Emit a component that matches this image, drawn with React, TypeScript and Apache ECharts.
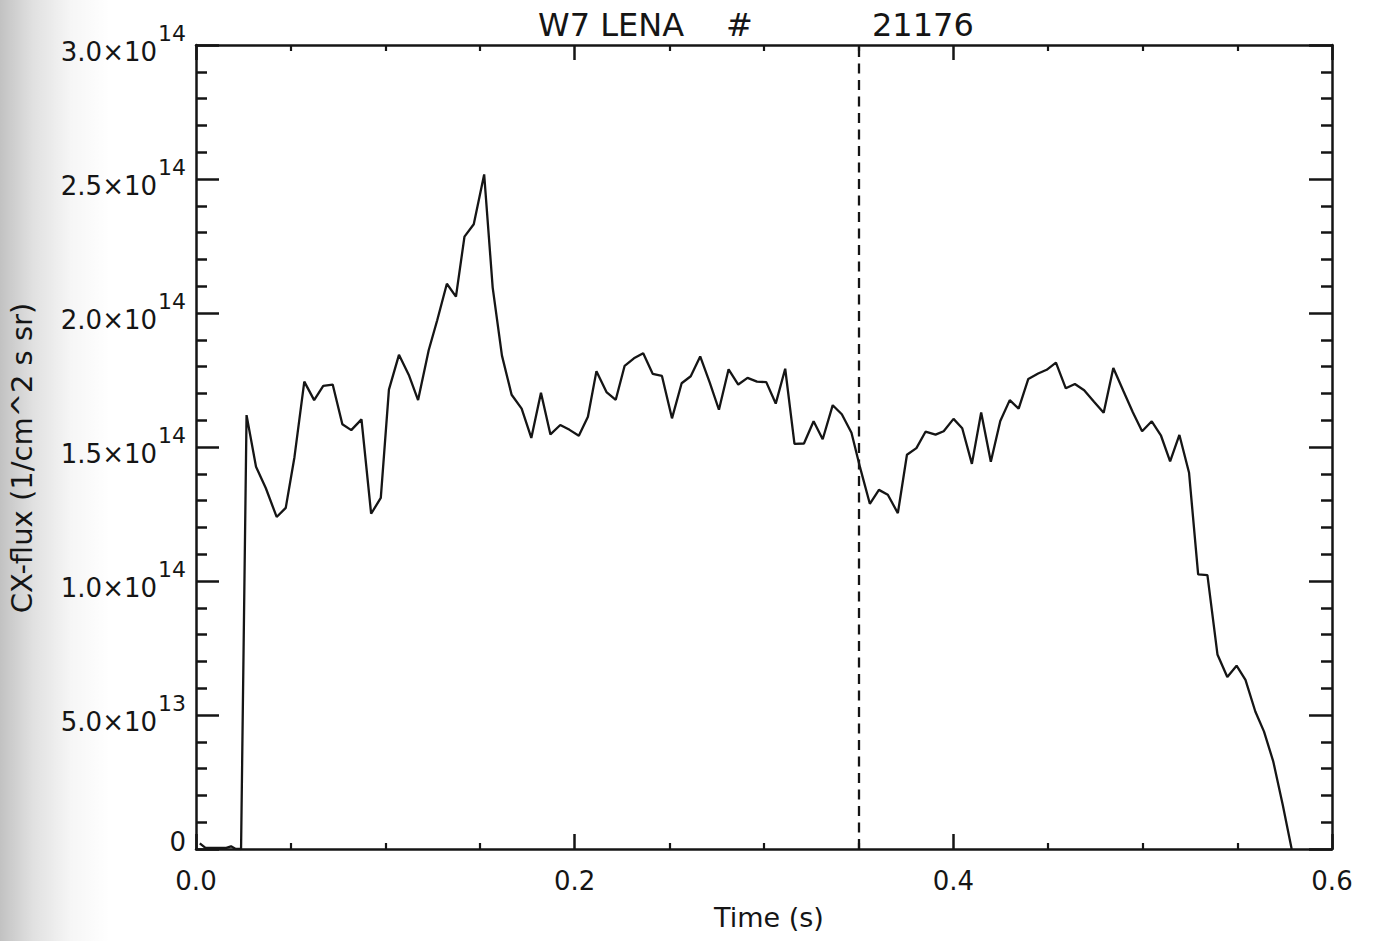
import React, { useEffect, useRef } from "react";
import * as echarts from "echarts";

// ---- data (time in s, CX-flux in units of 1e14 1/(cm^2 s sr)) ----
const timeS = [
  0.002, 0.005, 0.016, 0.0185, 0.021, 0.0238,
  0.0267, 0.0317, 0.0369, 0.0426, 0.0474, 0.052, 0.0572, 0.0624, 0.0672, 0.0722,
  0.0773, 0.082, 0.0874, 0.0925, 0.0976, 0.1019, 0.1072, 0.1124, 0.1173, 0.1229,
  0.1274, 0.1325, 0.1373, 0.1418, 0.1467, 0.1522, 0.1567, 0.1616, 0.1667, 0.172,
  0.1771, 0.1822, 0.1872, 0.1924, 0.1973, 0.2022, 0.207, 0.2115, 0.2168, 0.2217,
  0.2264, 0.2313, 0.2362, 0.2412, 0.2461, 0.2514, 0.2565, 0.2613, 0.2663, 0.2714,
  0.2762, 0.2813, 0.2864, 0.2913, 0.2963, 0.3012, 0.3062, 0.3112, 0.3161, 0.3211,
  0.3262, 0.331, 0.3363, 0.3411, 0.3462, 0.3508, 0.3559, 0.3607, 0.3654, 0.3707,
  0.3755, 0.3805, 0.3853, 0.3906, 0.3949, 0.4001, 0.4047, 0.4098, 0.4147, 0.4198,
  0.4248, 0.4298, 0.4345, 0.4396, 0.4448, 0.4493, 0.4542, 0.4594, 0.4642, 0.4691,
  0.4743, 0.4794, 0.4845, 0.4897, 0.4948, 0.4997, 0.5048, 0.5097, 0.5145, 0.5194,
  0.5245, 0.5293, 0.5342, 0.5395, 0.5447, 0.5496, 0.5543, 0.5595, 0.5641, 0.569,
  0.574, 0.5787,
];
const fluxE14 = [
  0.021, 0.004, 0.004, 0.01, 0.0, 0.0,
  1.619, 1.426, 1.346, 1.239, 1.273, 1.462, 1.744, 1.675, 1.728, 1.733,
  1.585, 1.563, 1.603, 1.251, 1.31, 1.714, 1.844, 1.769, 1.675, 1.861,
  1.973, 2.109, 2.061, 2.285, 2.331, 2.517, 2.095, 1.841, 1.695, 1.643,
  1.534, 1.702, 1.547, 1.582, 1.564, 1.542, 1.613, 1.783, 1.705, 1.676,
  1.803, 1.831, 1.85, 1.773, 1.765, 1.607, 1.738, 1.764, 1.838, 1.739,
  1.639, 1.79, 1.733, 1.758, 1.744, 1.742, 1.662, 1.792, 1.512, 1.513,
  1.596, 1.529, 1.656, 1.622, 1.553, 1.422, 1.288, 1.34, 1.322, 1.253,
  1.471, 1.496, 1.557, 1.546, 1.559, 1.605, 1.57, 1.437, 1.629, 1.445,
  1.597, 1.675, 1.643, 1.754, 1.774, 1.788, 1.815, 1.719, 1.735, 1.712,
  1.669, 1.628, 1.795, 1.711, 1.63, 1.559, 1.596, 1.542, 1.446, 1.545,
  1.404, 1.025, 1.022, 0.726, 0.642, 0.684, 0.631, 0.513, 0.438, 0.326,
  0.164, 0.0,
];
const FLUX_UNIT = 1e14;
const markerTime = 0.35;

const xTickLabels = ["0.0", "0.2", "0.4", "0.6"];
const yTickMantissa = ["0", "5.0", "1.0", "1.5", "2.0", "2.5", "3.0"];
const yTickExponent = ["", "13", "14", "14", "14", "14", "14"];

const titleMain = "W7 LENA";
const titleHash = "#";
const titleShot = "21176";
const xAxisTitle = "Time (s)";
const yAxisTitle = "CX-flux (1/cm^2 s sr)";

const INK = "#151515";
const FONT = "DejaVu Sans";

export default function App() {
  const ref = useRef<HTMLDivElement>(null);

  useEffect(() => {
    if (!ref.current) return;
    const chart = echarts.init(ref.current, undefined, { renderer: "svg" });

    const seriesData = timeS.map((t, i) => [t, fluxE14[i] * FLUX_UNIT]);

    const xCommon = {
      type: "value",
      min: 0,
      max: 0.6,
      interval: 0.2,
      splitLine: { show: false },
      axisLine: { show: true, onZero: false, lineStyle: { color: INK, width: 2.5 } },
      axisTick: { show: true, inside: true, length: 15, lineStyle: { color: INK, width: 2.5 } },
      minorTick: { show: true, splitNumber: 4, length: 6, lineStyle: { color: INK, width: 2.2 } },
      minorSplitLine: { show: false },
    };
    const yCommon = {
      type: "value",
      min: 0,
      max: 3e14,
      interval: 5e13,
      splitLine: { show: false },
      axisLine: { show: true, onZero: false, lineStyle: { color: INK, width: 2.5 } },
      axisTick: { show: true, inside: true, length: 23, lineStyle: { color: INK, width: 2.5 } },
      minorTick: { show: true, splitNumber: 5, length: 11, lineStyle: { color: INK, width: 2.5 } },
      minorSplitLine: { show: false },
    };

    const option: any = {
      animation: false,
      backgroundColor: "#ffffff",
      grid: { left: 196, right: 43, top: 45, bottom: 92, containLabel: false },
      xAxis: [
        {
          ...xCommon,
          position: "bottom",
          axisLabel: {
            margin: 19,
            color: INK,
            fontFamily: FONT,
            fontSize: 26,
            formatter: (_v: number, i: number) => xTickLabels[i] ?? "",
          },
        },
        { ...xCommon, position: "top", axisLabel: { show: false } },
      ],
      yAxis: [
        {
          ...yCommon,
          position: "left",
          axisLabel: {
            margin: 10,
            color: INK,
            padding: [10, 0, 0, 0],
            formatter: (_v: number, i: number) =>
              yTickExponent[i]
                ? `{m|${yTickMantissa[i]}×10}{e|${yTickExponent[i]}}`
                : `{z|${yTickMantissa[i]}}`,
            rich: {
              m: { fontFamily: FONT, fontSize: 26, lineHeight: 30, color: INK, verticalAlign: "bottom" },
              e: {
                fontFamily: FONT,
                fontSize: 22,
                lineHeight: 24,
                color: INK,
                verticalAlign: "bottom",
                padding: [0, 0, 21, 1],
              },
              z: { fontFamily: FONT, fontSize: 26, lineHeight: 30, color: INK, padding: [0, 0, 24, 0] },
            },
          },
        },
        { ...yCommon, position: "right", axisLabel: { show: false } },
      ],
      graphic: [
        {
          type: "rect",
          left: 0,
          top: 0,
          z: -1,
          silent: true,
          shape: { width: 110, height: 941 },
          style: {
            fill: new echarts.graphic.LinearGradient(0, 0, 1, 0, [
              { offset: 0, color: "rgba(0,0,0,0.24)" },
              { offset: 0.3, color: "rgba(0,0,0,0.12)" },
              { offset: 0.65, color: "rgba(0,0,0,0.035)" },
              { offset: 1, color: "rgba(0,0,0,0)" },
            ]),
          },
        },
        {
          type: "text",
          x: 538,
          y: 25,
          style: { text: titleMain, fill: INK, fontFamily: FONT, fontSize: 32, align: "left", verticalAlign: "middle" },
        },
        {
          type: "text",
          x: 726,
          y: 25,
          style: { text: titleHash, fill: INK, fontFamily: FONT, fontSize: 32, align: "left", verticalAlign: "middle" },
        },
        {
          type: "text",
          x: 872,
          y: 25,
          style: { text: titleShot, fill: INK, fontFamily: FONT, fontSize: 32, align: "left", verticalAlign: "middle" },
        },
        {
          type: "text",
          x: 769,
          y: 917,
          style: { text: xAxisTitle, fill: INK, fontFamily: FONT, fontSize: 27, align: "center", verticalAlign: "middle" },
        },
        {
          type: "text",
          x: 22,
          y: 458,
          rotation: Math.PI / 2,
          style: { text: yAxisTitle, fill: INK, fontFamily: FONT, fontSize: 29, align: "center", verticalAlign: "middle" },
        },
      ],
      series: [
        {
          type: "line",
          xAxisIndex: 0,
          yAxisIndex: 0,
          data: seriesData,
          showSymbol: false,
          symbol: "none",
          lineStyle: { color: INK, width: 2.3 },
          markLine: {
            silent: true,
            symbol: "none",
            label: { show: false },
            lineStyle: { color: INK, width: 2.3, type: [10, 6.5] },
            data: [{ xAxis: markerTime }],
          },
        },
      ],
    };

    chart.setOption(option);
    return () => chart.dispose();
  }, []);

  return (
    <div
      ref={ref}
      style={{ position: "fixed", left: 0, top: 0, width: 1375, height: 941, background: "#fff" }}
    />
  );
}
